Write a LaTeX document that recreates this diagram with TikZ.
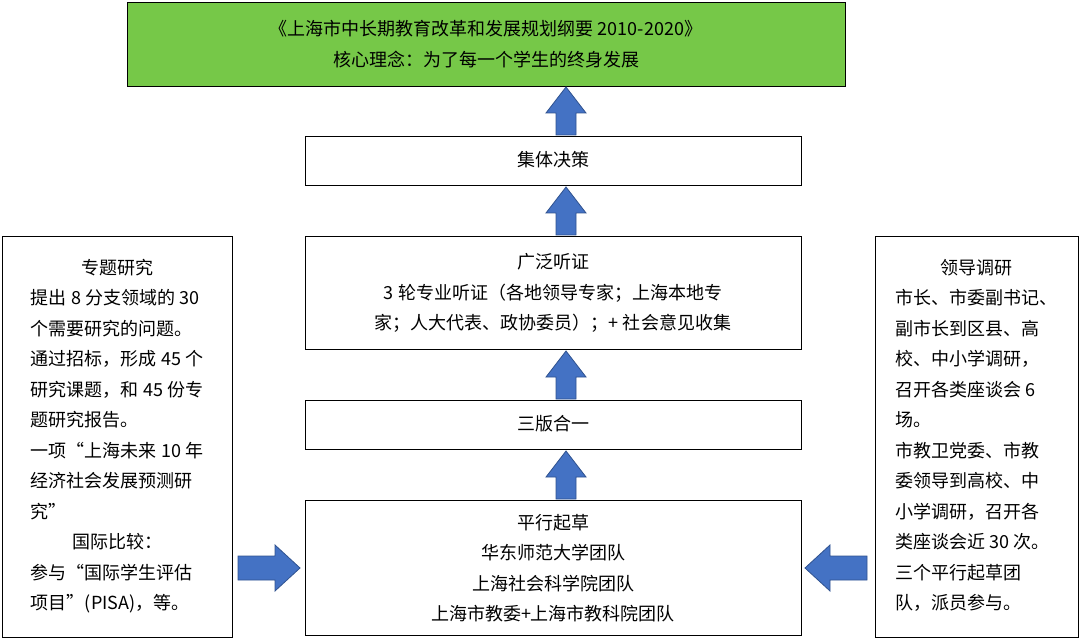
\documentclass[tikz,border=0pt]{standalone}
\usepackage{fontspec}
\setmainfont{Noto Sans CJK SC}
\definecolor{topgreen}{RGB}{118,200,72}
\definecolor{arrowblue}{RGB}{68,114,196}
\definecolor{arrowedge}{RGB}{47,82,143}
\tikzset{
  arrowfill/.style={draw=arrowedge, fill=arrowblue, thick},
  % block arrow pointing up, length 48, head 40 wide
  pics/uparrow/.style={code={
    \draw[arrowfill] (-10,24) -- (-10,2) -- (-20,2) -- (0,-24) -- (20,2) -- (10,2) -- (10,24) -- cycle;
  }},
  % block arrow pointing right, length 62, head 46 high
  pics/rightarrow/.style={code={
    \draw[arrowfill] (-31,-12) -- (6,-12) -- (6,-23) -- (31,0) -- (6,23) -- (6,12) -- (-31,12) -- cycle;
  }}
}
\begin{document}
\begin{tikzpicture}[x=1pt, y=-1pt, font=\fontsize{18}{30.5}\selectfont]
    \useasboundingbox (0,0) rectangle (1080,639);

    % Goal box
    \draw[thick, fill=topgreen] (127,2) rectangle (845,86);
    \node (goal) at (486,44) [align=center]
        {《上海市中长期教育改革和发展规划纲要 2010-2020》\\核心理念：为了每一个学生的终身发展};

    % Stages
    \draw[thick] (305,136) rectangle (801,185);
    \node (decide) at (553,160) {集体决策};
    \draw[thick] (305,236) rectangle (801,349);
    \node (hear) at (553,293) [align=center]
        {广泛听证\\3 轮专业听证（各地领导专家；上海本地专\\家；人大代表、政协委员）；+ 社会意见收集};
    \draw[thick] (305,400) rectangle (801,449);
    \node (merge) at (553,424) {三版合一};
    \draw[thick] (305,500) rectangle (801,635);
    \node (draft) at (553,568) [align=center]
        {平行起草\\华东师范大学团队\\上海社会科学院团队\\上海市教委+上海市教科院团队};

    % Up arrows
    \pic at (566,111) {uparrow};
    \pic at (566,211) {uparrow};
    \pic at (566,375) {uparrow};
    \pic at (566,475) {uparrow};

    % Side boxes
    \draw[thick] (2,236) rectangle (232,637);
    \node (study) at (117,436)
        {\begin{tabular}{@{}l@{}}
        \multicolumn{1}{c}{专题研究}\\
        提出 8 分支领域的 30\\
        个需要研究的问题。\\
        通过招标，形成 45 个\\
        研究课题，和 45 份专\\
        题研究报告。\\
        一项“上海未来 10 年\\
        经济社会发展预测研\\
        究”\\
        \multicolumn{1}{c}{国际比较：}\\
        参与“国际学生评估\\
        项目”(PISA)，等。
        \end{tabular}};
    \draw[thick] (875,236) rectangle (1078,637);
    \node (lead) at (976,436)
        {\begin{tabular}{@{}l@{}}
        \multicolumn{1}{c}{领导调研}\\
        市长、市委副书记、\\
        副市长到区县、高\\
        校、中小学调研，\\
        召开各类座谈会 6\\
        场。\\
        市教卫党委、市教\\
        委领导到高校、中\\
        小学调研，召开各\\
        类座谈会近 30 次。\\
        三个平行起草团\\
        队，派员参与。
        \end{tabular}};

    % Side arrows
    \pic at (269,568) {rightarrow};
    \pic[rotate=180] at (836,568) {rightarrow};
\end{tikzpicture}
\end{document}
